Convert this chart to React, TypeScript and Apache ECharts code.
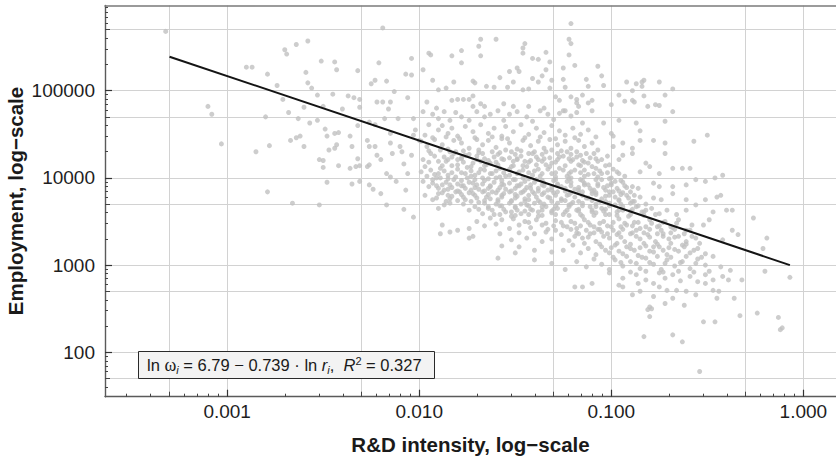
import React, { useEffect, useRef } from "react";
import * as echarts from "echarts";

// Axis ticks are placed in log10 units
const xTickValues = [-3, -2, -1, 0];
const xTickLabels = ["0.001", "0.010", "0.100", "1.000"];
const yTickValues = [2, 3, 4, 5];
const yTickLabels = ["100", "1000", "10000", "100000"];
const xTitle = "R&D intensity, log\u2212scale";
const yTitle = "Employment, log\u2212scale";
const xRange = [-3.636, 0.17];
const yRange = [1.491, 5.977];

// Points: [log10 R&D intensity, log10 employment]
const sparseLeft = [
  [-3.32,5.68],[-3.10,4.82],[-3.08,4.73],[-3.03,4.39],[-2.90,5.27],[-2.87,5.27],[-2.79,5.19],[-2.74,5.06],[-2.80,4.70],[-2.85,4.30],[-2.78,4.37],[-2.79,3.84],
  [-2.19,5.72],[-2.70,5.47],[-2.69,5.42],[-2.64,5.53],[-2.58,5.57],[-2.51,5.34],[-2.44,5.33],[-2.43,5.24],[-2.59,5.21],[-2.32,5.23],[-2.21,5.32],[-2.04,5.37],[-2.07,5.19],[-2.04,5.18],
  [-2.25,5.08],[-2.23,5.12],[-2.17,5.11],[-2.58,5.09],[-2.56,5.03],[-2.13,4.99],
  [-2.53,4.95],[-2.45,4.96],[-2.37,4.94],[-2.34,4.92],[-2.31,4.90],[-2.71,4.90],[-2.60,4.81],[-2.50,4.82],[-2.40,4.79],[-2.31,4.81],[-2.68,4.75],[-2.63,4.68],[-2.53,4.66],[-2.57,4.63],[-2.22,4.87],[-2.19,4.87],[-2.15,4.87],[-2.16,4.79],[-2.06,4.92],[-2.32,4.60],[-2.26,4.64],[-2.23,4.61],[-2.18,4.68],[-2.11,4.68],[-2.03,4.68],
  [-2.67,4.43],[-2.64,4.46],[-2.62,4.48],[-2.60,4.36],[-2.49,4.56],[-2.48,4.48],[-2.44,4.51],[-2.42,4.52],[-2.36,4.48],[-2.47,4.32],[-2.44,4.34],[-2.43,4.38],[-2.35,4.36],[-2.32,4.22],[-2.33,4.13],[-2.52,4.21],[-2.50,4.20],[-2.50,4.12],[-2.42,4.14],[-2.36,4.11],[-2.31,4.14],[-2.27,4.13],[-2.26,4.15],[-2.31,3.96],[-2.48,3.95],[-2.35,3.93],[-2.26,3.92],[-2.24,3.87],[-2.20,3.82],[-2.26,4.36],[-2.23,4.36],[-2.22,4.26],[-2.27,4.43],[-2.20,4.21],[-2.15,4.51],[-2.15,4.40],[-2.14,4.28],[-2.10,4.36],[-2.09,4.30],[-2.08,4.16],[-2.17,4.05],[-2.15,4.01],[-2.12,3.96],[-2.07,3.86],[-2.06,4.05],[-2.04,4.26],[-2.02,4.55],[-2.00,4.43],[-2.03,4.49],
  [-2.66,3.71],[-2.52,3.69],[-2.17,3.69],[-2.08,3.64],[-2.03,3.55],
];

const upperBand = [
  [-1.98,5.24],[-1.95,5.43],[-1.94,5.41],[-1.83,5.40],[-1.78,5.46],[-1.78,5.32],[-1.68,5.59],[-1.69,5.51],[-1.60,5.59],[-1.68,5.40],[-1.45,5.54],[-1.46,5.49],[-1.46,5.43],[-1.41,5.37],[-1.38,5.36],[-1.34,5.44],[-1.32,5.33],
  [-1.93,5.12],[-1.82,5.10],[-1.72,5.11],[-1.71,5.09],[-1.65,5.05],[-1.61,5.04],[-1.58,5.15],[-1.53,5.22],[-1.49,5.26],[-1.48,5.22],[-1.51,5.10],[-1.54,5.04],[-1.41,5.14],[-1.38,5.10],[-1.36,5.17],[-1.34,5.24],[-1.31,5.12],
  [-1.90,5.01],[-1.86,5.03],[-1.46,5.01],[-1.43,5.02],[-1.32,5.03],
  [-1.96,4.87],[-1.91,4.80],[-1.83,4.89],[-1.80,4.90],[-1.77,4.90],[-1.74,4.90],[-1.72,4.94],[-1.72,4.82],[-1.68,4.85],[-1.66,4.82],[-1.56,4.85],[-1.51,4.82],[-1.43,4.82],[-1.35,4.80],
  [-1.21,5.77],[-1.22,5.59],[-1.21,5.54],[-1.22,5.41],[-1.25,5.26],[-1.19,5.29],[-1.07,5.28],[-1.25,5.13],[-1.24,5.04],[-1.13,5.13],[-1.12,5.05],[-1.05,5.17],[-1.04,5.06],[-0.92,5.10],[-0.87,5.08],[-0.84,5.10],[-0.83,5.12],[-0.84,5.05],[-0.89,5.00],[-0.75,5.10],[-0.68,5.02],[-0.96,4.95],[-0.93,4.88],[-0.89,4.89],[-0.88,4.87],[-0.83,4.94],[-0.81,4.82],[-0.77,4.84],[-0.75,4.83],[-0.72,4.95],[-1.00,4.84],
  [-1.29,4.93],[-1.27,4.89],[-1.25,4.77],[-1.21,4.93],[-1.18,4.90],[-1.18,4.86],[-1.17,4.82],[-1.12,4.86],[-1.10,4.89],[-1.15,4.95],
];

const coreUpper = [
  [-1.98,4.76],[-1.93,4.73],[-1.90,4.68],[-1.87,4.76],[-1.84,4.66],[-1.81,4.75],[-1.78,4.70],[-1.74,4.66],[-1.70,4.76],[-1.66,4.70],[-1.63,4.73],[-1.59,4.77],[-1.56,4.66],[-1.53,4.73],[-1.49,4.76],[-1.44,4.70],[-1.41,4.65],[-1.37,4.77],[-1.33,4.73],[-1.30,4.67],[-1.27,4.74],[-1.24,4.77],[-1.21,4.71],[-1.18,4.75],[-1.15,4.63],[-1.10,4.77],[-1.04,4.63],[-0.96,4.66],[-0.87,4.63],[-0.72,4.65],[-0.68,4.76],
  [-1.97,4.49],[-1.95,4.61],[-1.90,4.55],[-1.88,4.60],[-1.85,4.51],[-1.83,4.57],[-1.80,4.48],[-1.76,4.59],[-1.72,4.53],[-1.68,4.61],[-1.64,4.51],[-1.61,4.57],[-1.57,4.48],[-1.55,4.59],[-1.51,4.53],[-1.47,4.61],[-1.43,4.50],[-1.39,4.57],[-1.35,4.52],[-1.31,4.60],[-1.27,4.54],[-1.24,4.49],[-1.20,4.57],[-1.16,4.50],[-1.12,4.55],[-1.00,4.51],[-0.99,4.48],[-0.85,4.54],[-0.50,4.49],
  [-1.99,4.42],[-1.96,4.36],[-1.92,4.44],[-1.88,4.38],[-1.85,4.33],[-1.82,4.43],[-1.78,4.40],[-1.74,4.34],[-1.70,4.44],[-1.67,4.38],[-1.64,4.43],[-1.60,4.35],[-1.57,4.45],[-1.53,4.40],[-1.49,4.33],[-1.46,4.43],[-1.42,4.37],[-1.38,4.42],[-1.35,4.34],[-1.32,4.44],[-1.28,4.38],[-1.24,4.42],[-1.21,4.34],[-1.17,4.43],[-1.14,4.36],[-1.10,4.40],[-0.99,4.36],[-0.94,4.40],[-0.89,4.34],[-0.85,4.43],[-0.78,4.43],[-0.72,4.40],[-0.57,4.42],
  [-1.98,4.21],[-1.94,4.28],[-1.90,4.19],[-1.87,4.24],[-1.84,4.30],[-1.80,4.21],[-1.76,4.26],[-1.72,4.17],[-1.69,4.29],[-1.66,4.22],[-1.63,4.17],[-1.59,4.27],[-1.56,4.21],[-1.52,4.30],[-1.49,4.22],[-1.45,4.19],[-1.41,4.28],[-1.38,4.21],[-1.34,4.30],[-1.31,4.17],[-1.27,4.24],[-1.23,4.30],[-1.20,4.21],[-1.16,4.26],[-1.12,4.17],[-1.09,4.28],[-1.05,4.21],[-0.96,4.21],[-0.94,4.26],[-0.89,4.28],[-0.82,4.17],[-0.72,4.28],
  [-1.99,4.07],[-1.97,4.13],[-1.92,4.04],[-1.89,4.11],[-1.85,4.03],[-1.83,4.14],[-1.78,4.06],[-1.75,4.12],[-1.71,4.03],[-1.68,4.10],[-1.65,4.15],[-1.62,4.05],[-1.58,4.11],[-1.55,4.02],[-1.51,4.14],[-1.48,4.07],[-1.44,4.13],[-1.41,4.03],[-1.38,4.10],[-1.34,4.15],[-1.31,4.05],[-1.27,4.11],[-1.23,4.02],[-1.19,4.09],[-1.16,4.14],[-1.12,4.04],[-1.08,4.11],[-1.05,4.05],[-1.01,4.15],[-0.97,4.07],[-0.85,4.07],[-0.80,4.13],[-0.75,4.05],[-0.68,4.11],[-0.63,4.11],[-0.59,4.11],
];

const coreLower = [
  [-1.98,3.96],[-1.95,3.90],[-1.91,4.00],[-1.88,3.92],[-1.85,3.87],[-1.82,3.98],[-1.78,3.91],[-1.75,4.00],[-1.72,3.94],[-1.69,3.87],[-1.66,3.97],[-1.63,3.90],[-1.60,4.00],[-1.57,3.93],[-1.55,3.87],[-1.51,3.98],[-1.48,3.91],[-1.45,3.96],[-1.42,3.88],[-1.39,3.98],[-1.36,3.92],[-1.33,3.86],[-1.30,3.97],[-1.26,3.90],[-1.23,3.96],[-1.19,3.87],[-1.16,3.98],[-1.12,3.92],[-1.09,3.86],[-1.05,3.98],[-1.02,3.91],[-0.98,3.96],[-0.89,3.90],[-0.86,3.88],[-0.78,3.94],[-0.75,3.90],[-0.68,3.90],[-0.61,3.92],[-0.56,3.98],[-0.51,3.96],[-0.46,4.00],[-0.42,4.03],
  [-1.97,3.80],[-1.93,3.75],[-1.90,3.82],[-1.86,3.73],[-1.83,3.79],[-1.79,3.84],[-1.76,3.75],[-1.72,3.82],[-1.69,3.72],[-1.65,3.78],[-1.62,3.84],[-1.59,3.75],[-1.56,3.82],[-1.52,3.73],[-1.49,3.79],[-1.46,3.84],[-1.43,3.75],[-1.40,3.82],[-1.37,3.72],[-1.33,3.78],[-1.30,3.83],[-1.26,3.74],[-1.23,3.80],[-1.20,3.72],[-1.17,3.83],[-1.13,3.77],[-1.10,3.82],[-1.06,3.73],[-1.03,3.79],[-0.99,3.84],[-0.96,3.75],[-0.92,3.80],[-0.88,3.73],[-0.85,3.78],[-0.78,3.77],[-0.74,3.75],[-0.68,3.82],[-0.61,3.75],[-0.51,3.75],[-0.45,3.78],[-0.43,3.80],
  [-1.90,3.65],[-1.87,3.69],[-1.74,3.63],[-1.71,3.67],[-1.67,3.59],[-1.64,3.65],[-1.61,3.58],[-1.58,3.68],[-1.55,3.61],[-1.52,3.56],[-1.50,3.66],[-1.47,3.59],[-1.44,3.69],[-1.41,3.63],[-1.38,3.56],[-1.34,3.67],[-1.31,3.60],[-1.28,3.65],[-1.25,3.58],[-1.22,3.69],[-1.18,3.63],[-1.15,3.56],[-1.11,3.67],[-1.08,3.60],[-1.05,3.65],[-1.01,3.58],[-0.98,3.69],[-0.94,3.63],[-0.91,3.56],[-0.87,3.67],[-0.84,3.61],[-0.79,3.65],[-0.75,3.59],[-0.71,3.63],[-0.66,3.58],[-0.61,3.63],[-0.56,3.69],[-0.47,3.61],[-0.40,3.63],[-0.37,3.63],
  [-1.88,3.46],[-1.74,3.42],[-1.70,3.50],[-1.66,3.45],[-1.63,3.54],[-1.60,3.47],[-1.57,3.52],[-1.53,3.42],[-1.51,3.53],[-1.48,3.46],[-1.45,3.50],[-1.42,3.43],[-1.39,3.52],[-1.36,3.46],[-1.33,3.41],[-1.29,3.51],[-1.25,3.45],[-1.21,3.50],[-1.18,3.42],[-1.14,3.52],[-1.11,3.46],[-1.07,3.41],[-1.04,3.50],[-1.00,3.44],[-0.96,3.53],[-0.92,3.46],[-0.88,3.49],[-0.85,3.42],[-0.80,3.52],[-0.76,3.44],[-0.72,3.50],[-0.68,3.43],[-0.65,3.52],[-0.61,3.40],[-0.58,3.46],[-0.52,3.46],[-0.49,3.52],
  [-1.89,3.36],[-1.84,3.38],[-1.80,3.40],[-1.74,3.31],[-1.72,3.33],[-1.58,3.36],[-1.52,3.29],[-1.48,3.37],[-1.44,3.31],[-1.40,3.36],[-1.36,3.27],[-1.34,3.38],[-1.31,3.30],[-1.26,3.35],[-1.22,3.28],[-1.18,3.37],[-1.15,3.31],[-1.11,3.36],[-1.08,3.27],[-1.05,3.38],[-1.01,3.31],[-0.97,3.35],[-0.93,3.27],[-0.89,3.37],[-0.85,3.30],[-0.81,3.35],[-0.77,3.27],[-0.73,3.36],[-0.70,3.30],[-0.65,3.33],[-0.61,3.27],[-0.56,3.31],[-0.42,3.29],[-0.37,3.40],[-0.34,3.35],
  [-1.57,3.22],[-1.48,3.21],[-1.50,3.14],[-1.40,3.17],[-1.31,3.15],[-1.25,3.17],[-1.20,3.23],[-1.16,3.14],[-1.12,3.19],[-1.08,3.12],[-1.05,3.21],[-1.01,3.14],[-0.98,3.23],[-0.94,3.13],[-0.90,3.19],[-0.86,3.11],[-0.82,3.22],[-0.78,3.15],[-0.75,3.21],[-0.71,3.12],[-0.67,3.18],[-0.63,3.23],[-0.59,3.14],[-0.55,3.19],[-0.51,3.13],[-0.47,3.10],
  [-1.59,3.08],[-1.40,3.06],[-1.31,3.02],[-1.24,2.95],[-1.18,3.04],[-1.13,2.98],[-1.09,3.07],[-1.05,3.01],[-1.01,2.95],[-0.98,3.06],[-0.94,2.99],[-0.90,3.04],[-0.85,2.96],[-0.82,3.08],[-0.78,3.01],[-0.74,2.95],[-0.71,3.06],[-0.67,2.99],[-0.63,3.04],[-0.59,2.96],[-0.55,3.07],[-0.51,3.00],[-0.43,2.98],[-0.38,2.94],
  [-1.10,2.79],[-1.01,2.91],[-0.94,2.85],[-0.87,2.89],[-0.82,2.83],[-0.78,2.79],[-0.75,2.91],[-0.72,2.85],[-0.68,2.89],[-0.64,2.82],[-0.59,2.87],[-0.55,2.81],[-0.51,2.89],[-0.47,2.83],[-0.42,2.87],[-0.39,2.83],
  [-1.19,2.75],[-1.15,2.75],[-0.96,2.77],[-0.94,2.75],[-0.89,2.66],[-0.85,2.70],[-0.75,2.75],[-0.71,2.71],[-0.66,2.71],[-0.61,2.70],[-0.56,2.66],[-0.51,2.79],[-0.47,2.71],[-0.44,2.70],[-0.36,2.62],[-0.80,2.52],[-0.72,2.56],[-0.62,2.54],[-0.45,2.62],[-0.86,2.79],[-0.78,2.64],[-0.68,2.62],
];

// Extra points where the cloud is packed solid
const denseFillUpper = [
  [-1.93,4.46],[-1.86,4.47],[-1.79,4.45],[-1.71,4.46],[-1.62,4.47],[-1.54,4.45],[-1.45,4.46],[-1.37,4.47],[-1.29,4.45],[-1.19,4.46],[-1.08,4.47],
  [-1.95,4.31],[-1.89,4.32],[-1.81,4.30],[-1.77,4.31],[-1.69,4.32],[-1.62,4.30],[-1.55,4.32],[-1.47,4.31],[-1.40,4.30],[-1.31,4.32],[-1.26,4.31],[-1.18,4.30],[-1.07,4.32],
  [-1.92,4.25],[-1.83,4.24],[-1.78,4.23],[-1.70,4.25],[-1.61,4.24],[-1.53,4.23],[-1.47,4.25],[-1.39,4.24],[-1.32,4.23],[-1.25,4.25],[-1.18,4.24],[-1.11,4.23],[-1.02,4.25],
  [-1.95,4.18],[-1.86,4.19],[-1.77,4.18],[-1.68,4.19],[-1.60,4.18],[-1.51,4.19],[-1.43,4.18],[-1.36,4.19],[-1.29,4.18],[-1.21,4.19],[-1.14,4.18],[-1.07,4.19],
  [-1.94,4.09],[-1.87,4.08],[-1.80,4.10],[-1.73,4.08],[-1.66,4.09],[-1.60,4.08],[-1.53,4.10],[-1.46,4.09],[-1.40,4.08],[-1.33,4.10],[-1.25,4.09],[-1.21,4.07],[-1.14,4.09],[-1.06,4.08],[-0.99,4.10],
  [-1.96,4.02],[-1.89,4.00],[-1.81,4.01],[-1.73,4.02],[-1.67,4.00],[-1.58,4.01],[-1.53,4.03],[-1.46,4.00],[-1.37,4.02],[-1.29,4.01],[-1.21,4.00],[-1.14,4.02],[-1.07,4.01],[-1.00,4.00],[-0.93,4.02],
  [-1.93,3.94],[-1.86,3.95],[-1.80,3.93],[-1.74,3.95],[-1.67,3.93],[-1.61,3.95],[-1.53,3.94],[-1.47,3.93],[-1.40,3.95],[-1.35,3.94],[-1.28,3.93],[-1.21,3.95],[-1.14,3.94],[-1.07,3.93],[-1.00,3.94],[-0.94,3.95],
];

const denseFillLower = [
  [-1.90,3.88],[-1.83,3.89],[-1.76,3.88],[-1.71,3.89],[-1.64,3.88],[-1.58,3.89],[-1.50,3.88],[-1.44,3.89],[-1.38,3.88],[-1.31,3.89],[-1.24,3.88],[-1.17,3.89],[-1.11,3.88],[-1.04,3.89],[-0.97,3.88],[-0.92,3.89],
  [-1.88,3.83],[-1.81,3.84],[-1.74,3.83],[-1.67,3.84],[-1.60,3.83],[-1.53,3.84],[-1.47,3.83],[-1.41,3.84],[-1.35,3.83],[-1.28,3.84],[-1.21,3.83],[-1.15,3.84],[-1.08,3.83],[-1.01,3.84],[-0.94,3.83],[-0.90,3.84],
  [-1.91,3.77],[-1.84,3.76],[-1.77,3.78],[-1.70,3.77],[-1.63,3.76],[-1.57,3.78],[-1.50,3.77],[-1.45,3.76],[-1.39,3.78],[-1.32,3.77],[-1.26,3.76],[-1.19,3.78],[-1.12,3.77],[-1.05,3.76],[-0.98,3.78],[-0.91,3.77],
  [-1.84,3.71],[-1.77,3.70],[-1.66,3.71],[-1.60,3.70],[-1.53,3.71],[-1.47,3.70],[-1.40,3.71],[-1.35,3.70],[-1.28,3.71],[-1.21,3.70],[-1.15,3.71],[-1.08,3.70],[-1.01,3.71],[-0.95,3.70],[-0.90,3.71],[-0.82,3.70],
  [-1.69,3.64],[-1.62,3.63],[-1.56,3.64],[-1.49,3.63],[-1.42,3.64],[-1.36,3.63],[-1.30,3.64],[-1.23,3.63],[-1.17,3.64],[-1.10,3.63],[-1.03,3.64],[-0.96,3.63],[-0.89,3.64],[-0.82,3.63],
  [-1.58,3.58],[-1.50,3.57],[-1.43,3.58],[-1.36,3.57],[-1.29,3.58],[-1.22,3.57],[-1.16,3.58],[-1.09,3.57],[-1.03,3.58],[-0.97,3.57],[-0.90,3.58],[-0.83,3.57],[-0.77,3.58],
  [-1.43,3.49],[-1.34,3.48],[-1.26,3.49],[-1.19,3.48],[-1.12,3.49],[-1.06,3.48],[-0.99,3.49],[-0.93,3.48],[-0.86,3.49],[-0.79,3.48],[-0.73,3.49],[-0.66,3.48],
  [-1.29,3.40],[-1.21,3.41],[-1.13,3.40],[-1.06,3.41],[-0.99,3.40],[-0.94,3.41],[-0.87,3.40],[-0.80,3.41],[-0.74,3.40],[-0.67,3.41],[-0.59,3.40],
  [-1.19,3.33],[-1.12,3.32],[-1.04,3.33],[-0.95,3.32],[-0.87,3.33],[-0.80,3.32],[-0.73,3.33],[-0.67,3.32],[-0.58,3.33],
  [-1.14,3.25],[-1.06,3.24],[-0.97,3.25],[-0.90,3.24],[-0.83,3.25],[-0.76,3.24],[-0.69,3.25],[-0.61,3.24],[-0.54,3.25],
  [-1.03,3.17],[-0.96,3.16],[-0.88,3.17],[-0.80,3.16],[-0.73,3.17],[-0.65,3.16],[-0.57,3.17],
  [-0.99,3.09],[-0.92,3.10],[-0.84,3.09],[-0.76,3.10],[-0.69,3.09],[-0.61,3.10],[-0.53,3.09],
  [-0.90,2.92],[-0.82,2.93],[-0.73,2.92],[-0.65,2.93],[-0.57,2.92],[-0.49,2.93],
];

// Further points in the most crowded middle of the cloud
const denseFillCore = [
  [-1.82,4.28],[-1.74,4.27],[-1.67,4.28],[-1.58,4.29],[-1.50,4.27],[-1.43,4.28],[-1.36,4.27],[-1.28,4.28],[-1.21,4.27],[-1.13,4.28],
  [-1.85,4.21],[-1.78,4.22],[-1.70,4.21],[-1.64,4.20],[-1.57,4.22],[-1.49,4.21],[-1.42,4.20],[-1.35,4.22],[-1.28,4.21],[-1.22,4.22],[-1.15,4.20],[-1.08,4.22],
  [-1.88,4.14],[-1.80,4.15],[-1.73,4.13],[-1.66,4.14],[-1.59,4.15],[-1.52,4.13],[-1.46,4.14],[-1.39,4.15],[-1.32,4.13],[-1.24,4.14],[-1.17,4.15],[-1.10,4.13],[-1.03,4.14],
  [-1.90,4.05],[-1.83,4.06],[-1.76,4.05],[-1.69,4.06],[-1.63,4.05],[-1.56,4.06],[-1.49,4.05],[-1.43,4.06],[-1.36,4.05],[-1.29,4.06],[-1.22,4.05],[-1.16,4.06],[-1.09,4.05],[-1.02,4.06],[-0.96,4.05],
  [-1.93,3.98],[-1.85,3.99],[-1.78,3.97],[-1.71,3.98],[-1.64,3.99],[-1.57,3.97],[-1.50,3.98],[-1.43,3.99],[-1.36,3.97],[-1.29,3.98],[-1.22,3.99],[-1.15,3.97],[-1.08,3.98],[-1.01,3.99],[-0.95,3.97],
  [-1.91,3.91],[-1.84,3.92],[-1.77,3.91],[-1.70,3.92],[-1.63,3.91],[-1.56,3.92],[-1.49,3.91],[-1.42,3.92],[-1.35,3.91],[-1.28,3.92],[-1.21,3.91],[-1.14,3.92],[-1.07,3.91],[-1.00,3.92],[-0.93,3.91],
  [-1.87,3.86],[-1.80,3.85],[-1.73,3.86],[-1.66,3.85],[-1.59,3.86],[-1.52,3.85],[-1.45,3.86],[-1.38,3.85],[-1.31,3.86],[-1.24,3.85],[-1.17,3.86],[-1.10,3.85],[-1.03,3.86],[-0.96,3.85],
  [-1.85,3.80],[-1.78,3.81],[-1.71,3.80],[-1.64,3.81],[-1.57,3.80],[-1.50,3.81],[-1.43,3.80],[-1.36,3.81],[-1.29,3.80],[-1.22,3.81],[-1.15,3.80],[-1.08,3.81],[-1.01,3.80],[-0.95,3.81],[-0.88,3.80],
  [-1.80,3.74],[-1.73,3.73],[-1.66,3.74],[-1.59,3.73],[-1.52,3.74],[-1.45,3.73],[-1.38,3.74],[-1.31,3.73],[-1.24,3.74],[-1.17,3.73],[-1.10,3.74],[-1.03,3.73],[-0.96,3.74],[-0.89,3.73],
  [-1.64,3.67],[-1.57,3.68],[-1.50,3.67],[-1.43,3.68],[-1.36,3.67],[-1.29,3.68],[-1.22,3.67],[-1.15,3.68],[-1.08,3.67],[-1.01,3.68],[-0.94,3.67],[-0.86,3.68],
  [-1.52,3.61],[-1.45,3.62],[-1.38,3.61],[-1.31,3.62],[-1.24,3.61],[-1.17,3.62],[-1.10,3.61],[-1.04,3.62],[-0.97,3.61],[-0.90,3.62],[-0.83,3.61],
];

const denseFillArm = [
  [-1.30,3.45],[-1.23,3.44],[-1.16,3.45],[-1.09,3.44],[-1.02,3.45],[-0.95,3.44],[-0.89,3.45],[-0.82,3.44],[-0.75,3.45],[-0.69,3.44],
  [-1.17,3.36],[-1.09,3.37],[-1.02,3.36],[-0.96,3.37],[-0.90,3.36],[-0.83,3.37],[-0.76,3.36],[-0.69,3.37],[-0.62,3.36],
  [-1.00,3.20],[-0.92,3.21],[-0.85,3.20],[-0.78,3.21],[-0.70,3.20],[-0.62,3.21],
  [-0.95,3.03],[-0.87,3.02],[-0.80,3.03],[-0.72,3.02],[-0.64,3.03],[-0.56,3.02],
];

const lowerRight = [
  [-0.26,3.54],[-0.19,3.31],[-0.21,3.19],[-0.20,2.93],[-0.07,2.86],[-0.24,2.45],[-0.13,2.40],[-0.11,2.28],[-0.12,2.26],[-0.33,2.42],[-0.32,2.83],
  [-0.81,2.49],[-0.79,2.50],[-0.80,2.41],[-0.83,2.18],[-0.68,2.20],[-0.63,2.12],[-0.54,1.78],[-0.52,2.35],[-0.46,2.35],
];

// Fitted line end points, log10 units
const fitLine = [[-3.30, 5.39], [-0.07, 3.0]];

const FONT = "'Liberation Sans', Arial, Helvetica, sans-serif";
const minorMult = [2, 3, 4, 6, 7, 8, 9];

function ticksFor(lo: number, hi: number, mults: number[]) {
  const out: number[] = [];
  for (let d = Math.floor(lo) - 1; d <= Math.ceil(hi); d++) {
    for (const m of mults) {
      const v = d + Math.log10(m);
      if (v > lo && v < hi) out.push(v);
    }
  }
  return out;
}

function labelFor(values: number[], labels: string[]) {
  return (v: number) => {
    const i = values.findIndex((t) => Math.abs(t - v) < 1e-6);
    return i >= 0 ? labels[i] : "";
  };
}

function makeAxes(dim: "x" | "y", range: number[], values: number[], labels: string[]) {
  const pos = dim === "x" ? "bottom" : "left";
  const base = { type: "value", min: range[0], max: range[1], position: pos };
  const split = { show: true, lineStyle: { color: "#d2d2d2", width: 1 } };
  return [
    {
      ...base,
      axisLine: { show: true, onZero: false, lineStyle: { color: "#5a5a5a", width: 1.4 } },
      axisTick: { show: true, inside: true, length: 7, customValues: values, lineStyle: { color: "#333", width: 1.2 } },
      axisLabel: {
        show: true,
        customValues: values,
        formatter: labelFor(values, labels),
        margin: dim === "x" ? 5 : 10,
        fontSize: 19,
        color: "#1e1e1e",
        fontFamily: FONT,
      },
      splitLine: split,
    },
    {
      ...base,
      axisLine: { show: false, onZero: false },
      axisTick: { show: true, inside: true, length: 5, customValues: ticksFor(range[0], range[1], [5]), lineStyle: { color: "#444", width: 1 } },
      axisLabel: { show: false },
      splitLine: split,
    },
    {
      ...base,
      axisLine: { show: false, onZero: false },
      axisTick: { show: true, inside: true, length: 3, customValues: ticksFor(range[0], range[1], minorMult), lineStyle: { color: "#444", width: 1 } },
      axisLabel: { show: false },
      splitLine: { show: false },
    },
  ];
}

export default function App() {
  const ref = useRef<HTMLDivElement>(null);
  useEffect(() => {
    if (!ref.current) return;
    const chart = echarts.init(ref.current, undefined, { renderer: "svg" });
    const xAxes: any[] = makeAxes("x", xRange, xTickValues, xTickLabels);
    xAxes.push({
      type: "value",
      min: xRange[0],
      max: xRange[1],
      position: "top",
      axisLine: { show: true, onZero: false, lineStyle: { color: "#7a7a7a", width: 1.5 } },
      axisTick: { show: false },
      axisLabel: { show: false },
      splitLine: { show: false },
    });
    const yAxes: any[] = makeAxes("y", yRange, yTickValues, yTickLabels);
    const points = [
      ...sparseLeft, ...upperBand, ...coreUpper, ...coreLower,
      ...denseFillUpper, ...denseFillLower, ...denseFillCore, ...denseFillArm, ...lowerRight,
    ];
    chart.setOption({
      animation: false,
      grid: { left: 105, top: 5.5, right: 0, bottom: 64.3, containLabel: false },
      xAxis: xAxes,
      yAxis: yAxes,
      series: [
        {
          type: "scatter",
          xAxisIndex: 0,
          yAxisIndex: 0,
          data: points,
          symbol: "circle",
          symbolSize: 5,
          itemStyle: { color: "#c0c0c0" },
          silent: true,
          z: 2,
        },
        {
          type: "line",
          xAxisIndex: 0,
          yAxisIndex: 0,
          data: fitLine,
          symbol: "none",
          lineStyle: { color: "#141414", width: 2 },
          silent: true,
          z: 3,
        },
      ],
      graphic: [
        {
          type: "text",
          x: 470.5,
          y: 444.5,
          style: {
            text: xTitle,
            fontSize: 20.5,
            fontWeight: "bold",
            fontFamily: FONT,
            fill: "#1a1a1a",
            align: "center",
            verticalAlign: "middle",
          },
        },
        {
          type: "text",
          x: 15,
          y: 201,
          rotation: Math.PI / 2,
          style: {
            text: yTitle,
            fontSize: 20.5,
            fontWeight: "bold",
            fontFamily: FONT,
            fill: "#1a1a1a",
            align: "center",
            verticalAlign: "middle",
          },
        },
        {
          type: "rect",
          z: 10,
          shape: { x: 138.5, y: 351.5, width: 296, height: 27 },
          style: { fill: "#f3f3f3", stroke: "#2a2a2a", lineWidth: 1 },
        },
        {
          type: "text",
          z: 11,
          x: 147,
          y: 365,
          style: {
            text: "{t|ln }{w|\u03c9}{s|i}{t| = 6.79 \u2212 0.739 \u00b7 ln }{it|r}{s|i}{t|,  }{it|R}{p|2}{t| = 0.327}",
            fontFamily: FONT,
            fontSize: 16.5,
            fill: "#1a1a1a",
            align: "left",
            verticalAlign: "middle",
            rich: {
              t: { fontSize: 16.5, fontFamily: FONT, fill: "#1a1a1a", lineHeight: 20, verticalAlign: "middle" },
              w: { fontSize: 18, fontFamily: "'Liberation Serif', 'Times New Roman', serif", fill: "#1a1a1a", lineHeight: 20, verticalAlign: "middle" },
              it: { fontSize: 16.5, fontStyle: "italic", fontFamily: FONT, fill: "#1a1a1a", lineHeight: 20, verticalAlign: "middle" },
              s: { fontSize: 11, fontStyle: "italic", fontFamily: FONT, fill: "#1a1a1a", lineHeight: 10, verticalAlign: "bottom" },
              p: { fontSize: 11, fontFamily: FONT, fill: "#1a1a1a", lineHeight: 10, verticalAlign: "top" },
            },
          },
        },
      ],
    });
    return () => chart.dispose();
  }, []);
  return (
    <div
      ref={ref}
      style={{ position: "fixed", left: 0, top: 0, width: 836, height: 461, background: "#fff" }}
    />
  );
}
